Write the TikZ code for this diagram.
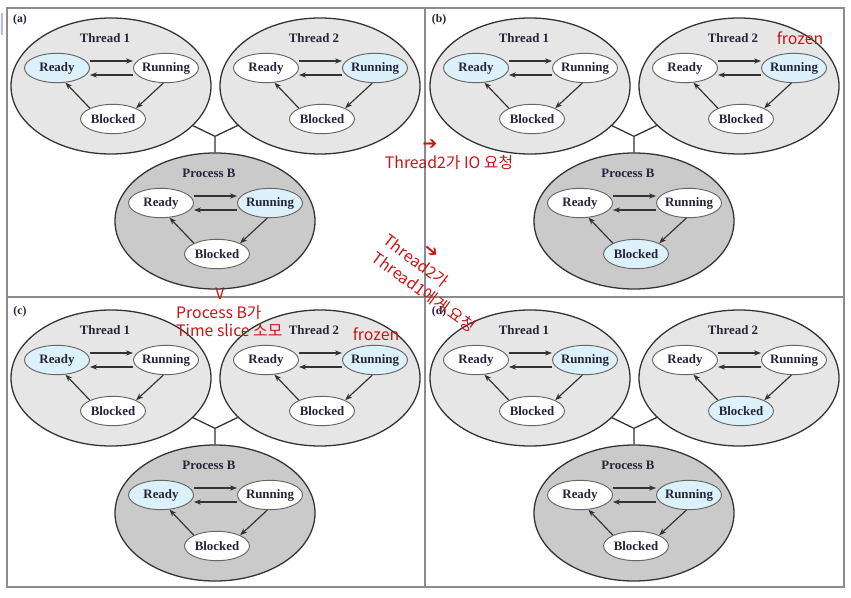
\documentclass[tikz,border=0pt]{standalone}
\usepackage{fontspec}
\setmainfont{Liberation Serif}
\newfontfamily\krfont{Noto Sans CJK KR}
\newfontfamily\symfont{DejaVu Sans}
\usetikzlibrary{shapes.geometric,arrows.meta}

\definecolor{hilite}{HTML}{DDF1FA}
\definecolor{thrfill}{HTML}{E6E6E6}
\definecolor{procfill}{HTML}{CACACA}
\definecolor{memo}{HTML}{CC1414}
\definecolor{framegray}{HTML}{8C8C8C}
\definecolor{inktext}{HTML}{25253A}

\tikzset{
    bigell/.style={ellipse, draw=black!80, line width=1.1pt,
        minimum width=6cm, minimum height=4.08cm},
    st/.style={ellipse, draw=black!60, line width=0.8pt,
        minimum width=1.95cm, minimum height=0.88cm,
        inner xsep=-3mm, inner ysep=0pt, text=inktext,
        font=\fontsize{11}{13}\selectfont\bfseries},
    clabel/.style={text=inktext, font=\fontsize{11}{13}\selectfont\bfseries},
    plabel/.style={text=inktext, font=\fontsize{10}{12}\selectfont\bfseries},
    tr/.style={-{Stealth[length=6pt,width=4.5pt]}, line width=1pt, draw=black!80},
    joinline/.style={line width=1.1pt, draw=black!80},
    frame/.style={line width=1.3pt, draw=framegray},
    memo/.style={text=memo, inner sep=0pt, font=\krfont\fontsize{13.5}{15}\selectfont},
    memoarrow/.style={text=memo, inner sep=0pt, font=\symfont\fontsize{15}{17}\selectfont},
}

% one thread / process with its three states
\newcommand{\cluster}[8]{%
    \begin{scope}[shift={(#2,#3)}]
        \node[bigell, fill=#5] (#1) at (0,0) {};
        \node[clabel] (#1-lbl) at (-6,-48) {#4};
        \node[st, fill=#6] (#1-rd) at (-54,-18) {Ready};
        \node[st, fill=#7] (#1-rn) at (55,-18) {Running};
        \node[st, fill=#8] (#1-bl) at (2,33) {Blocked};
    \end{scope}
    \draw[tr] ([yshift=0.21cm]#1-rd.east) -- ([yshift=0.21cm]#1-rn.west);
    \draw[tr] ([yshift=-0.21cm]#1-rn.west) -- ([yshift=-0.21cm]#1-rd.east);
    \draw[tr] (#1-rn.-100) -- (#1-bl.25);
    \draw[tr] (#1-bl.155) -- (#1-rd.-60);
}

% the three-way joint between threads and process
\newcommand{\yjoin}[1]{%
    \coordinate (#1J) at ([yshift=0.48cm]#1PB.north);
    \draw[joinline] (#1T1) -- (#1J) -- (#1T2) (#1J) -- (#1PB);
}

\begin{document}
\begin{tikzpicture}[x=0.03cm, y=-0.03cm]
    \useasboundingbox (0,0) rectangle (851,598);
    \fill[white] (0,0) rectangle (851,598);
    \draw[blue!30, line width=1pt] (2,13) -- (2,35);

    % frame
    \draw[frame] (7,8) rectangle (844,587);
    \draw[frame] (425,8) -- (425,587);
    \draw[frame] (7,297) -- (844,297);

    % (a)
    \begin{scope}[shift={(0,0)}]
        \node[plabel] (a-tag) at (20,20) {(a)};
        \cluster{aT1}{111}{86}{Thread 1}{thrfill}{hilite}{white}{white}
        \cluster{aT2}{320}{86}{Thread 2}{thrfill}{white}{hilite}{white}
        \cluster{aPB}{215}{221}{Process B}{procfill}{white}{hilite}{white}
        \yjoin{a}
    \end{scope}

    % (b)
    \begin{scope}[shift={(419,0)}]
        \node[plabel] (b-tag) at (20,20) {(b)};
        \cluster{bT1}{111}{86}{Thread 1}{thrfill}{hilite}{white}{white}
        \cluster{bT2}{320}{86}{Thread 2}{thrfill}{white}{hilite}{white}
        \cluster{bPB}{215}{221}{Process B}{procfill}{white}{white}{hilite}
        \yjoin{b}
    \end{scope}

    % (c)
    \begin{scope}[shift={(0,292)}]
        \node[plabel] (c-tag) at (20,20) {(c)};
        \cluster{cT1}{111}{86}{Thread 1}{thrfill}{hilite}{white}{white}
        \cluster{cT2}{320}{86}{Thread 2}{thrfill}{white}{hilite}{white}
        \cluster{cPB}{215}{221}{Process B}{procfill}{hilite}{white}{white}
        \yjoin{c}
    \end{scope}

    % (d)
    \begin{scope}[shift={(419,292)}]
        \node[plabel] (d-tag) at (20,20) {(d)};
        \cluster{dT1}{111}{86}{Thread 1}{thrfill}{white}{hilite}{white}
        \cluster{dT2}{320}{86}{Thread 2}{thrfill}{white}{white}{hilite}
        \cluster{dPB}{215}{221}{Process B}{procfill}{white}{hilite}{white}
        \yjoin{d}
    \end{scope}

    % red notes
    \node[memoarrow] (m-ar1) at (430,145) {➔};
    \node[memo] (m-io) at (449,163) {Thread2가 IO 요청};
    \node[memo] (m-fz1) at (800,38) {frozen};
    \node[memo] (m-v) at (220,294) {V};
    \node[memo, anchor=west] (m-ts1) at (176,313) {Process B가};
    \node[memo, anchor=west] (m-ts2) at (176,330) {Time slice 소모};
    \node[memo] (m-fz2) at (376,334) {frozen};
    \node[memo, rotate=-37] (m-rq1) at (416,261) {Thread2가};
    \node[memo, rotate=-36] (m-rq2) at (424,292) {Thread1에게 요청};
    \node[memoarrow, rotate=-40] (m-ar2) at (431,252) {➔};
\end{tikzpicture}
\end{document}
